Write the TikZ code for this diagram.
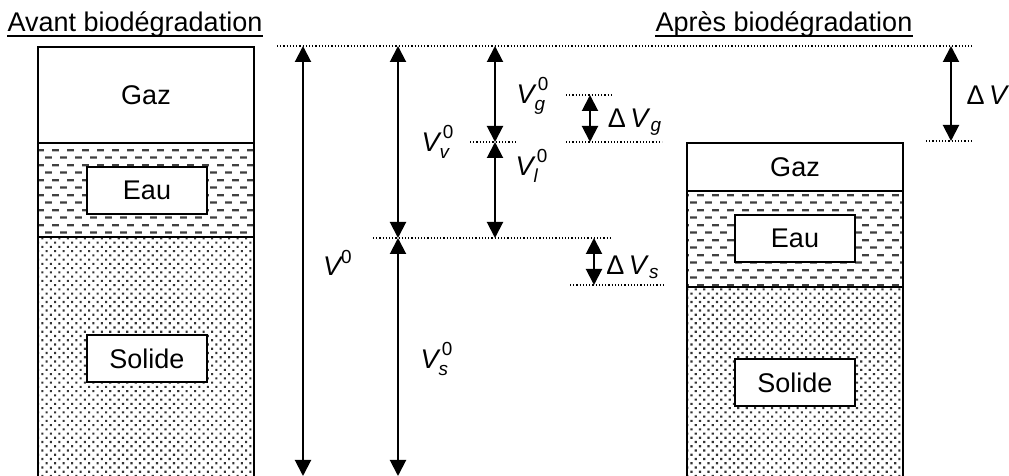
\documentclass[tikz,border=0pt]{standalone}
\usepackage{fontspec}
\setmainfont{Liberation Sans}
\usepackage{amsmath}
\usetikzlibrary{arrows.meta,patterns.meta}
% hachures de l'eau
\tikzdeclarepattern{
  name=eaudash,
  type=uncolored,
  bounding box={(0pt,0pt) and (7.5pt,7.5pt)},
  tile size={(7.5pt,7.5pt)},
  code={
    \draw[line width=1.2pt] (0pt,1.875pt) -- (3.6pt,1.875pt);
    \draw[line width=1.2pt] (3.75pt,5.625pt) -- (7.35pt,5.625pt);
  }
}
\tikzset{
  every node/.style={font=\fontsize{13.5}{16}\selectfont},
  wall/.style={line width=1pt},
  tag/.style={draw,line width=1pt,fill=white,minimum width=60pt,minimum height=23.5pt,inner sep=0pt},
  water/.style={pattern=eaudash,pattern color=black!75},
  soil/.style={pattern={Dots[angle=45,distance=3pt,radius=0.75pt]},pattern color=black!80},
  dim/.style={{Triangle[length=8pt,width=8pt]}-{Triangle[length=8pt,width=8pt]},line width=1pt},
  guide/.style={line width=0.6pt,dash pattern=on 0.6pt off 1pt},
  title/.style={anchor=base,inner sep=0pt},
  souligne/.style={line width=1pt}
}
\begin{document}
\begin{tikzpicture}[x=0.5pt,y=-0.5pt]
\useasboundingbox (0,0) rectangle (1009,476);
% titres
\node[title] (avant) at (135,32) {Avant biodégradation};
\node[title] (apres) at (784,32) {Après biodégradation};
\draw[souligne] ([yshift=-2pt]avant.base west) -- ([yshift=-2pt]avant.base east);
\draw[souligne] ([yshift=-2pt]apres.base west) -- ([yshift=-2pt]apres.base east);
% colonne avant
\fill[water] (38,143) rectangle (254,237);
\fill[soil] (38,237) rectangle (254,476);
\draw[wall] (38,476) -- (38,47) -- (254,47) -- (254,476);
\draw[wall] (38,143) -- (254,143) (38,237) -- (254,237);
\node (gaz1) at (146,95) {Gaz};
\node[tag] (eau1) at (147,190.5) {Eau};
\node[tag] (sol1) at (147,359) {Solide};
% colonne apres
\fill[water] (687,191) rectangle (903,287);
\fill[soil] (687,287) rectangle (903,476);
\draw[wall] (687,476) -- (687,143) -- (903,143) -- (903,476);
\draw[wall] (687,191) -- (903,191) (687,287) -- (903,287);
\node (gaz2) at (795,167) {Gaz};
\node[tag] (eau2) at (795,238.5) {Eau};
\node[tag] (sol2) at (795,383) {Solide};
% lignes de repere
\draw[guide] (277,46) -- (972,46);
\draw[guide] (470,142) -- (515,142);
\draw[guide] (566,95) -- (612,95);
\draw[guide] (566,142) -- (662,142);
\draw[guide] (926,141) -- (972,141);
\draw[guide] (373,238) -- (612,238);
\draw[guide] (570,285) -- (663,285);
% niveaux
\coordinate (top) at (0,46);
\coordinate (dg) at (0,95);
\coordinate (dv) at (0,141);
\coordinate (gv) at (0,142);
\coordinate (sv) at (0,238);
\coordinate (ds) at (0,285);
\coordinate (bas) at (0,476);
\coordinate (a0) at (303,0);
\coordinate (a1) at (398,0);
\coordinate (a2) at (495,0);
\coordinate (a3) at (590,0);
\coordinate (a4) at (594,0);
\coordinate (a5) at (951,0);
% cotes
\draw[dim] (a0 |- top) -- (a0 |- bas);
\draw[dim] (a1 |- top) -- (a1 |- sv);
\draw[dim] (a1 |- sv) -- (a1 |- bas);
\draw[dim] (a2 |- top) -- (a2 |- gv);
\draw[dim] (a2 |- gv) -- (a2 |- sv);
\draw[dim] (a3 |- dg) -- (a3 |- gv);
\draw[dim] (a4 |- sv) -- (a4 |- ds);
\draw[dim] (a5 |- top) -- (a5 |- dv);
\node (v0) at (338,263) {$\textit{V}^{\textup{0}}$};
\node (vv) at (438,142) {$\textit{V}_{\textit{v}}^{\,\textup{0}}$};
\node (vs) at (437,359) {$\textit{V}_{\textit{s}}^{\,\textup{0}}$};
\node (vg) at (533,96) {$\textit{V}_{\textit{g}}^{\,\textup{0}}$};
\node (vl) at (532,166) {$\textit{V}_{\textit{l}}^{\,\textup{0}}$};
\node (dvg) at (635,122) {Δ\,\textit{V}$_{\textit{g}}$};
\node (dvs) at (633,267) {Δ\,\textit{V}$_{\textit{s}}$};
\node (dvt) at (988,95) {Δ\,\textit{V}};
\end{tikzpicture}
\end{document}
